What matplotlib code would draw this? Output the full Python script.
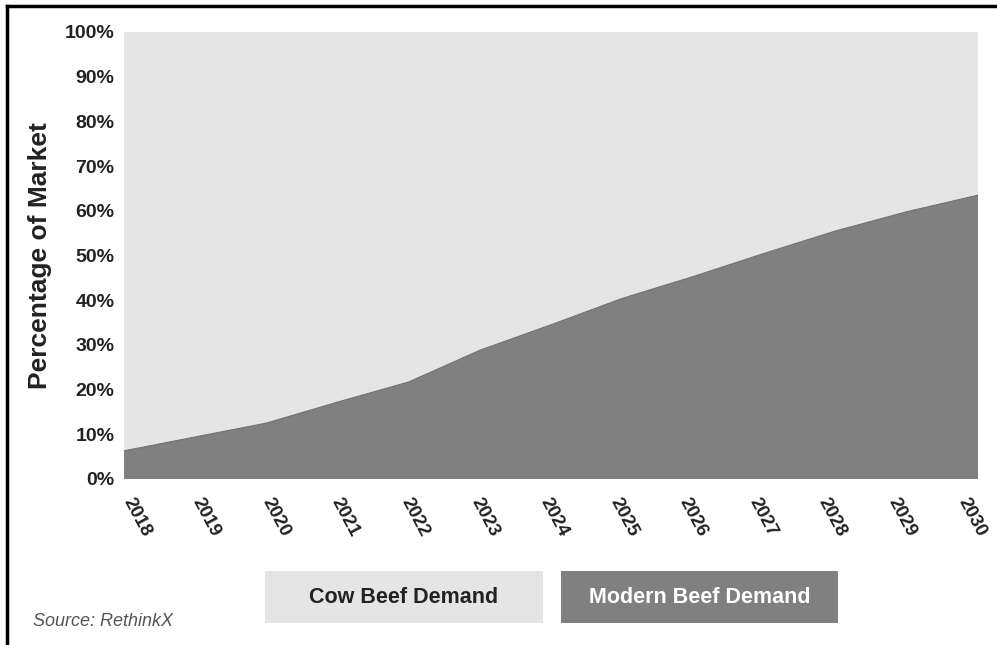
import matplotlib
matplotlib.use('Agg')
import matplotlib.pyplot as plt
from matplotlib.patches import Rectangle
from matplotlib.lines import Line2D
from matplotlib.transforms import ScaledTranslation
import numpy as np

plt.rcParams['font.family'] = ['Liberation Sans', 'DejaVu Sans']

# Modern beef share of the market (%)
years = [2018, 2019, 2020, 2021, 2022, 2023, 2024, 2025, 2026, 2027, 2028, 2029, 2030]
modern_beef = [6.3, 9.4, 12.5, 17.2, 21.7, 28.8, 34.5, 40.4, 45.3, 50.5, 55.5, 59.8, 63.5]
cow_beef = [100 - v for v in modern_beef]
y_ticks = list(range(0, 101, 10))

light = '#e5e5e5'
dark = '#808080'

fig = plt.figure(figsize=(9.97, 6.45), dpi=100)
ax = fig.add_axes([0.1244, 0.2574, 0.8566, 0.693])

ax.stackplot(years, modern_beef, cow_beef, colors=[dark, light], linewidth=0)
ax.plot(years, modern_beef, color='#707070', linewidth=0.8)
ax.set_xlim(years[0], years[-1])
ax.set_ylim(0, 100)

for s in ax.spines.values():
    s.set_visible(False)
ax.tick_params(length=0)

ax.set_yticks(y_ticks)
ax.set_yticklabels(['{0}%'.format(t) for t in y_ticks], fontsize=14,
                   fontweight='bold', color='#222222')
ax.tick_params(axis='y', pad=7)

ax.set_xticks(years)
ax.set_xticklabels([str(y) for y in years], fontsize=13.5, fontweight='bold',
                   color='#222222', rotation=-62, ha='left', va='center',
                   rotation_mode='anchor')
ax.tick_params(axis='x', pad=14)
# labels sit a bit left of their ticks, more so towards the right
for i, lbl in enumerate(ax.get_xticklabels()):
    shift = (3 - 1.6 * i) / 100.0
    lbl.set_transform(lbl.get_transform() + ScaledTranslation(shift, 0, fig.dpi_scale_trans))

ax.set_ylabel('Percentage of Market', fontsize=19, fontweight='bold',
              color='#222222', labelpad=9)

# legend boxes below the chart
fig.add_artist(Rectangle((0.2658, 0.0341), 0.2788, 0.0806, transform=fig.transFigure,
                         facecolor=light, edgecolor='none'))
fig.text(0.4052, 0.0744, 'Cow Beef Demand', fontsize=15.5, fontweight='bold',
         color='#222222', ha='center', va='center')
fig.add_artist(Rectangle((0.5627, 0.0341), 0.2778, 0.0806, transform=fig.transFigure,
                         facecolor=dark, edgecolor='none'))
fig.text(0.7016, 0.0744, 'Modern Beef Demand', fontsize=15.5, fontweight='bold',
         color='white', ha='center', va='center')

fig.text(0.033, 0.036, 'Source: RethinkX', fontsize=13, fontstyle='italic',
         color='#555555', ha='left', va='center')

# frame lines (left and top)
fig.add_artist(Line2D([0.007, 0.007], [0, 0.991], transform=fig.transFigure,
                      color='black', linewidth=2.5))
fig.add_artist(Line2D([0.007, 1], [0.991, 0.991], transform=fig.transFigure,
                      color='black', linewidth=2.5))

plt.savefig('out.png', dpi=100)
